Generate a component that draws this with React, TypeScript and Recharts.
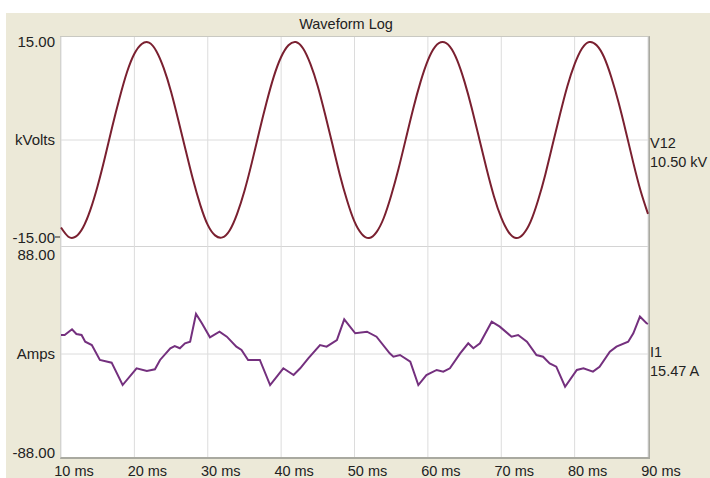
import { LineChart, Line, XAxis, YAxis, CartesianGrid } from "recharts";

// time axis (ms)
const timeTicks = [10, 20, 30, 40, 50, 60, 70, 80, 90];

// V12 samples, one per ms
const voltTime = [
  10, 11, 12, 13, 14, 15, 16, 17, 18, 19,
  20, 21, 22, 23, 24, 25, 26, 27, 28, 29,
  30, 31, 32, 33, 34, 35, 36, 37, 38, 39,
  40, 41, 42, 43, 44, 45, 46, 47, 48, 49,
  50, 51, 52, 53, 54, 55, 56, 57, 58, 59,
  60, 61, 62, 63, 64, 65, 66, 67, 68, 69,
  70, 71, 72, 73, 74, 75, 76, 77, 78, 79,
  80, 81, 82, 83, 84, 85, 86, 87, 88, 89,
  90,
];
const kVolts = [
  -13.4, -14.8, -14.8, -13.4, -10.7, -7.0, -2.6, 2.1, 6.5, 10.4,
  13.2, 14.7, 14.9, 13.6, 11.0, 7.4, 3.0, -1.6, -6.1, -10.0,
  -13.0, -14.6, -14.9, -13.8, -11.3, -7.8, -3.5, 1.2, 5.7, 9.7,
  12.7, 14.5, 15.0, 14.0, 11.6, 8.2, 3.9, -0.7, -5.3, -9.3,
  -12.5, -14.4, -15.0, -14.1, -11.9, -8.5, -4.4, 0.2, 4.8, 8.9,
  12.2, 14.3, 15.0, 14.3, 12.2, 8.9, 4.8, 0.2, -4.4, -8.6,
  -11.9, -14.1, -15.0, -14.4, -12.5, -9.3, -5.3, -0.7, 3.9, 8.2,
  11.6, 14.0, 15.0, 14.5, 12.7, 9.6, 5.7, 1.2, -3.5, -7.8,
  -11.3,
];

// I1 trace, read point by point
const ampTime = [
  10.0, 10.5, 11.5, 12.1, 12.8, 13.3, 14.2, 15.3, 16.9, 18.4,
  20.3, 21.7, 22.8, 23.5, 24.9, 25.5, 26.2, 26.9, 27.6, 28.4,
  29.2, 30.3, 31.6, 32.6, 33.9, 34.6, 35.5, 37.1, 38.5, 40.3,
  41.7, 42.6, 43.7, 45.3, 46.2, 47.6, 48.6, 50.1, 51.7, 53.0,
  54.8, 55.3, 56.2, 57.6, 58.7, 59.8, 61.2, 62.1, 63.0, 64.4,
  65.5, 66.2, 67.1, 68.7, 69.8, 71.4, 72.3, 73.5, 74.8, 75.7,
  76.6, 77.5, 78.7, 80.3, 81.2, 82.5, 83.4, 84.8, 85.7, 87.3,
  88.0, 88.9, 89.8, 90.0,
];
const amps = [
  16.9, 16.9, 22.0, 17.8, 16.9, 10.9, 8.0, -5.3, -7.7, -27.6,
  -12.7, -15.1, -13.6, -5.3, 5.1, 7.1, 5.1, 9.5, 10.9, 35.6,
  27.3, 14.8, 19.8, 15.4, 6.5, 3.6, -5.3, -5.3, -27.6, -12.7,
  -18.7, -12.7, -3.8, 8.0, 6.5, 12.4, 30.8, 18.4, 19.8, 15.4,
  0.6, -2.4, -0.9, -6.8, -27.6, -18.7, -14.2, -15.7, -12.7, 0.6,
  9.5, 5.1, 9.5, 28.7, 24.3, 15.4, 16.9, 10.9, -0.9, -2.4,
  -8.3, -11.3, -29.1, -14.2, -12.7, -15.7, -11.3, 2.0, 6.5, 10.9,
  18.4, 33.2, 27.3, 26.7,
];

const voltData = voltTime.map((t, i) => ({ t, v: kVolts[i] }));
const ampData = ampTime.map((t, i) => ({ t, a: amps[i] }));

const FONT = "'Liberation Sans', Arial, sans-serif";
const TEXT = "#222";
const GRID = "#dcdcdc";

const YTick = (props: any) => {
  const { y, payload, unit } = props;
  const v = payload.value;
  const label = v === 0 ? unit : v.toFixed(2);
  return (
    <g>
      <text x={55} y={y} dy="0.36em" textAnchor="end" fill={TEXT} fontSize={15} fontFamily={FONT}>
        {label}
      </text>
      {unit === "kVolts" && v < 0 && <line x1={55} x2={60} y1={y - 1} y2={y - 1} stroke={TEXT} />}
    </g>
  );
};

const XTick = (props: any) => {
  const { x, payload } = props;
  return (
    <text x={x + 13} y={229} textAnchor="middle" fill={TEXT} fontSize={14.5} fontFamily={FONT}>
      {`${payload.value} ms`}
    </text>
  );
};

const App = () => {
  return (
    <div style={{ position: "absolute", left: 0, top: 0, width: 710, height: 478, background: "#fff", overflow: "hidden" }}>
      <div style={{ position: "absolute", left: 6, top: 13, width: 704, height: 465, background: "#ECE9D8" }} />
      <div
        style={{
          position: "absolute",
          left: 60,
          top: 36,
          width: 590,
          height: 423,
          boxSizing: "border-box",
          background: "#fff",
          borderLeft: "1px solid #c9c9c2",
          borderTop: "1px solid #c9c9c2",
          borderRight: "2px solid #a9a9a0",
          borderBottom: "2px solid #a9a9a0",
        }}
      />
      <div style={{ position: "absolute", left: 61, top: 246, width: 587, height: 1, background: "#d4d4d4" }} />

      <div style={{ position: "absolute", left: 0, top: 0 }}>
        <LineChart width={710} height={247} data={voltData} margin={{ top: 37, right: 62, bottom: 0, left: 0 }}>
          <CartesianGrid stroke={GRID} verticalValues={timeTicks} horizontalValues={[0]} />
          <XAxis type="number" dataKey="t" domain={[10, 90]} ticks={timeTicks} hide />
          <YAxis
            width={61}
            domain={[-15, 15]}
            ticks={[-15, 0, 15]}
            interval={0}
            padding={{ top: 5, bottom: 9 }}
            axisLine={false}
            tickLine={false}
            tick={<YTick unit="kVolts" />}
          />
          <Line type="natural" dataKey="v" stroke="#7a2030" strokeWidth={2} dot={false} isAnimationActive={false} />
        </LineChart>
      </div>

      <div style={{ position: "absolute", left: 0, top: 247 }}>
        <LineChart width={710} height={231} data={ampData} margin={{ top: 0, right: 62, bottom: 0, left: 0 }}>
          <CartesianGrid stroke={GRID} verticalValues={timeTicks} horizontalValues={[0]} />
          <XAxis
            type="number"
            dataKey="t"
            domain={[10, 90]}
            ticks={timeTicks}
            interval={0}
            height={21}
            axisLine={false}
            tickLine={false}
            tick={<XTick />}
          />
          <YAxis
            width={61}
            domain={[-88, 88]}
            ticks={[-88, 0, 88]}
            interval={0}
            padding={{ top: 8, bottom: 4 }}
            axisLine={false}
            tickLine={false}
            tick={<YTick unit="Amps" />}
          />
          <Line type="linear" dataKey="a" stroke="#74307e" strokeWidth={2} dot={false} isAnimationActive={false} />
        </LineChart>
      </div>

      <svg width={710} height={478} style={{ position: "absolute", left: 0, top: 0, pointerEvents: "none" }}>
        <g fill={TEXT} fontSize={14.5} fontFamily={FONT}>
          <text x={346} y={29} textAnchor="middle">Waveform Log</text>
          <text x={650} y={148}>V12</text>
          <text x={650} y={167}>10.50 kV</text>
          <text x={650} y={357}>I1</text>
          <text x={650} y={376}>15.47 A</text>
        </g>
      </svg>
    </div>
  );
};

export default App;
